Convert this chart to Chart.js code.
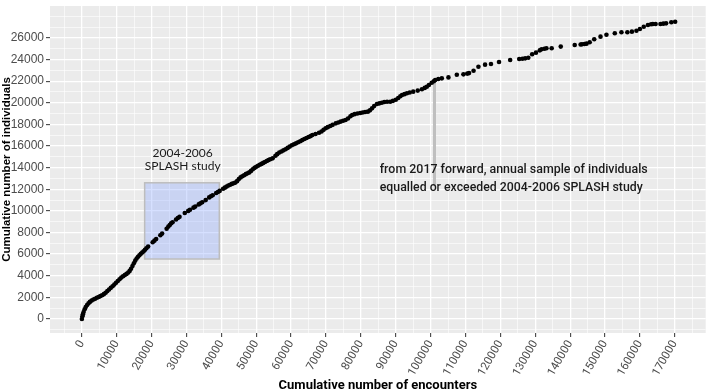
<!DOCTYPE html>
<html>
<head>
<meta charset="utf-8">
<script src="https://cdn.jsdelivr.net/npm/chart.js@4.4.0/dist/chart.umd.min.js"></script>
<style>
  html, body { margin: 0; padding: 0; background: #fff; }
  canvas { display: block; }
</style>
</head>
<body>
<canvas id="chart" width="708" height="392"></canvas>
<script>
// Cumulative encounters (x) vs cumulative individuals (y)
const encounters = [
  0, 150, 300, 500, 800, 1100, 1500, 1900, 2300, 2800, 3300, 3800, 4300, 4800, 5300,
  5800, 6300, 6800, 7300, 7800, 8300, 8800, 9300, 9800, 10300, 10800, 11300, 11800,
  12300, 12800, 13300, 13700, 14100, 14500, 14900, 15300, 15700, 16100, 16500, 16900,
  17300, 17700, 18100,
  18500, 19000, 20300, 20800, 21300, 22500, 23000, 24300, 24800, 25200, 25600,
  26000, 27000, 27500, 28000, 29500, 30500, 31000, 32000, 32500, 33500, 34000,
  34500, 35500, 36500, 37000, 37500, 38500, 39000, 39500,
  40500, 41000, 41500, 42000, 42500, 43000, 43500, 44000, 44500, 45000, 45500, 46000,
  46500, 47000, 47500, 48000, 48500, 49000, 49500, 50000, 50500, 51000, 51500, 52000,
  52500, 53000, 53500, 54000, 54700, 55500, 56000, 56600, 57200, 57800, 58400, 59000,
  59600, 60200, 60800, 61400, 62000, 62600, 63200, 63800, 64400, 65000, 65600, 66100,
  67000, 68000, 68700, 69300, 69900, 70500, 71200, 71900, 72800, 73500, 74200, 74900,
  75600, 76300, 77000, 77500, 78200, 79000, 79800, 80500, 81200, 82000, 82600, 83200,
  83800, 84600, 85300, 86000, 86700, 87500, 88400, 89200, 90000, 90700, 91300, 91800,
  92500, 93200, 94000, 95000, 96300, 97500, 98300, 98900, 99500, 100300, 100900, 101300,
  102200, 103200, 105100, 107500, 109400, 110500, 111000, 112300, 113700, 115600,
  117300, 119600, 122800, 125400, 126300, 127100, 128000, 129100, 130200, 131300,
  131800, 132600, 133200, 134700, 137300, 141300, 143000, 143400, 144100, 144700,
  145600, 146900, 148700, 150400, 152800, 154700, 156400, 157700, 159000, 160000,
  161100, 162300, 163200, 163700, 164500, 165900, 166700, 167500, 169000, 170100
];
const individuals = [
  0, 250, 450, 650, 900, 1100, 1300, 1450, 1580, 1700, 1800, 1880, 1960, 2040, 2120,
  2200, 2300, 2430, 2580, 2730, 2880, 3030, 3190, 3350, 3520, 3680, 3830, 3950,
  4060, 4170, 4300, 4450, 4650, 4900, 5150, 5400, 5600, 5760, 5900, 6030,
  6150, 6270, 6400,
  6550, 6700, 7100, 7250, 7400, 7750, 7900, 8350, 8550, 8700, 8850,
  8950, 9200, 9350, 9450, 9800, 10000, 10100, 10300, 10400, 10600, 10700,
  10800, 11000, 11250, 11350, 11450, 11650, 11750, 11850,
  12050, 12150, 12250, 12350, 12420, 12500, 12560, 12620, 12750, 12950, 13100, 13200,
  13300, 13400, 13480, 13560, 13700, 13850, 13980, 14090, 14180, 14270, 14350, 14440,
  14530, 14620, 14700, 14780, 14860, 15100, 15250, 15400, 15500, 15600, 15700, 15830,
  15950, 16080, 16170, 16250, 16350, 16450, 16550, 16650, 16740, 16830, 16920, 17020,
  17120, 17230, 17350, 17500, 17640, 17750, 17860, 17960, 18100, 18180, 18260, 18340,
  18410, 18550, 18750, 18870, 18950, 19010, 19050, 19100, 19150, 19180, 19300, 19490,
  19700, 19890, 19950, 20010, 20070, 20100, 20100, 20180, 20280, 20450, 20600, 20720,
  20800, 20880, 20950, 21030, 21130, 21250, 21380, 21490, 21650, 21860, 22000, 22110,
  22200, 22260, 22350, 22600, 22630, 22700, 22750, 22970, 23340, 23530,
  23590, 23770, 23960, 24050, 24080, 24110, 24170, 24490, 24640, 24850,
  24950, 25000, 25050, 25050, 25200, 25350, 25400, 25410, 25440, 25470,
  25600, 25880, 26120, 26300, 26430, 26520, 26520, 26580, 26670, 26830,
  27040, 27200, 27260, 27290, 27290, 27290, 27320, 27350, 27450, 27500
];

const xTicks = [0, 10000, 20000, 30000, 40000, 50000, 60000, 70000, 80000, 90000,
  100000, 110000, 120000, 130000, 140000, 150000, 160000, 170000];
const yTicks = [0, 2000, 4000, 6000, 8000, 10000, 12000, 14000, 16000, 18000, 20000,
  22000, 24000, 26000];
const xMinor = [-5000, 5000, 15000, 25000, 35000, 45000, 55000, 65000, 75000, 85000,
  95000, 105000, 115000, 125000, 135000, 145000, 155000, 165000, 175000];
const yMinor = [-1000, 1000, 3000, 5000, 7000, 9000, 11000, 13000, 15000, 17000, 19000,
  21000, 23000, 25000, 27000, 28000];

// SPLASH 2004-2006 box and the 2017 marker line
const splashBoxX = [18000, 39400];
const splashBoxY = [5550, 12600];
const splashLabel = ["2004-2006", "SPLASH study"];
const splashLabelAt = [28900, 15380, 14180];
const markerX = 101100;
const markerY = [12300, 22000];
const markerLabel = [
  "from 2017 forward, annual sample of individuals",
  "equalled or exceeded 2004-2006 SPLASH study"
];
const markerLabelAt = [85400, 13780, 12120];

const points = encounters.map((x, i) => ({ x: x, y: individuals[i] }));

const panelBg = {
  id: "panelBg",
  beforeDraw(chart) {
    const { ctx, chartArea: a } = chart;
    ctx.save();
    ctx.fillStyle = "#EBEBEB";
    ctx.fillRect(a.left, a.top, a.right - a.left, a.bottom - a.top);
    ctx.restore();
  }
};

const annotations = {
  id: "annotations",
  beforeDatasetsDraw(chart) {
    const { ctx } = chart;
    const xs = chart.scales.x, ys = chart.scales.y;
    const x0 = xs.getPixelForValue(splashBoxX[0]);
    const x1 = xs.getPixelForValue(splashBoxX[1]);
    const y0 = ys.getPixelForValue(splashBoxY[1]);
    const y1 = ys.getPixelForValue(splashBoxY[0]);
    ctx.save();
    ctx.fillStyle = "rgba(138,166,255,0.35)";
    ctx.fillRect(x0, y0, x1 - x0, y1 - y0);
    ctx.strokeStyle = "#BDBDBD";
    ctx.lineWidth = 1.5;
    ctx.strokeRect(x0, y0, x1 - x0, y1 - y0);

    const mx = xs.getPixelForValue(markerX);
    ctx.strokeStyle = "#BFBFBF";
    ctx.lineWidth = 3;
    ctx.beginPath();
    ctx.moveTo(mx, ys.getPixelForValue(markerY[0]));
    ctx.lineTo(mx, ys.getPixelForValue(markerY[1]));
    ctx.stroke();
    ctx.restore();
  },
  afterDatasetsDraw(chart) {
    const { ctx } = chart;
    const xs = chart.scales.x, ys = chart.scales.y;
    ctx.save();
    ctx.fillStyle = "#1a1a1a";
    ctx.textBaseline = "middle";
    ctx.font = "12px Lato";
    ctx.textAlign = "center";
    splashLabel.forEach((t, i) => {
      ctx.fillText(t, xs.getPixelForValue(splashLabelAt[0]), ys.getPixelForValue(splashLabelAt[i + 1]));
    });
    ctx.font = "500 13.5px Roboto";
    ctx.textAlign = "left";
    const widths = [268, 263];
    markerLabel.forEach((t, i) => {
      ctx.fillText(t, xs.getPixelForValue(markerLabelAt[0]), ys.getPixelForValue(markerLabelAt[i + 1]), widths[i]);
    });
    ctx.restore();
  }
};

new Chart(document.getElementById("chart"), {
  type: "scatter",
  data: {
    datasets: [{
      data: points,
      backgroundColor: "#000000",
      borderWidth: 0,
      pointRadius: 2.3,
      pointHoverRadius: 2.3
    }]
  },
  options: {
    responsive: false,
    animation: false,
    layout: { padding: { top: 6, left: 0, right: 0, bottom: 0 } },
    plugins: { legend: { display: false }, tooltip: { enabled: false } },
    scales: {
      x: {
        type: "linear",
        min: -9140,
        max: 178860,
        afterBuildTicks: (s) => {
          s.ticks = [...xMinor, ...xTicks].sort((a, b) => a - b).map(v => ({ value: v }));
        },
        afterFit: (s) => {
          s.height = 59;
          s.paddingLeft = 0;
          s.paddingRight = 0;
        },
        border: { display: false },
        grid: {
          color: "#FFFFFF",
          lineWidth: (c) => xTicks.includes(c.tick.value) ? 1.3 : 0.6,
          tickColor: (c) => xTicks.includes(c.tick.value) ? "#333333" : "rgba(0,0,0,0)",
          tickLength: 4,
          tickWidth: 1
        },
        ticks: {
          autoSkip: false,
          minRotation: 60,
          maxRotation: 60,
          padding: 1,
          color: "#4D4D4D",
          font: { family: "Roboto", size: 11.5 },
          callback: (v) => xTicks.includes(v) ? String(v) : ""
        },
        title: {
          display: true,
          text: "Cumulative number of encounters",
          color: "#000000",
          font: { family: "Roboto", size: 13, weight: "bold", lineHeight: 1 },
          padding: { top: 0, bottom: 0 }
        }
      },
      y: {
        type: "linear",
        min: -1295,
        max: 28955,
        afterBuildTicks: (s) => {
          s.ticks = [...yMinor, ...yTicks].sort((a, b) => a - b).map(v => ({ value: v }));
        },
        afterFit: (s) => {
          s.width = 50;
          s.paddingTop = 0;
          s.paddingBottom = 0;
        },
        border: { display: false },
        grid: {
          color: "#FFFFFF",
          lineWidth: (c) => yTicks.includes(c.tick.value) ? 1.3 : 0.6,
          tickColor: (c) => yTicks.includes(c.tick.value) ? "#333333" : "rgba(0,0,0,0)",
          tickLength: 4,
          tickWidth: 1
        },
        ticks: {
          autoSkip: false,
          padding: 2,
          color: "#4D4D4D",
          font: { family: "Liberation Sans", size: 12 },
          callback: (v) => yTicks.includes(v) ? String(v) : ""
        },
        title: {
          display: true,
          text: "Cumulative number of individuals",
          color: "#000000",
          font: { family: "Liberation Sans", size: 11.5, weight: "bold" },
          padding: { top: 0, bottom: 0 }
        }
      }
    }
  },
  plugins: [panelBg, annotations]
});
</script>
</body>
</html>
